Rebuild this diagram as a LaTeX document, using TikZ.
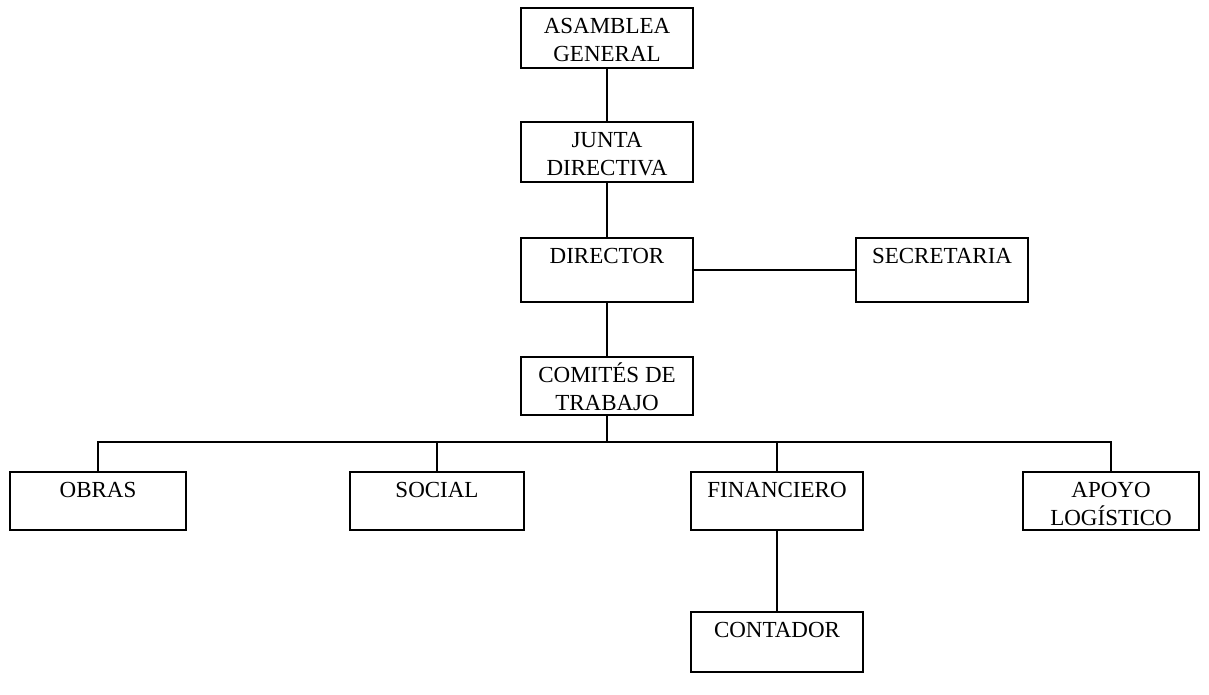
\documentclass[tikz,border=0pt]{standalone}
\usepackage{fontspec}
\setmainfont{Liberation Serif}
\begin{document}
\begin{tikzpicture}[x=1pt,y=-1pt,
  box/.style={draw,line width=2pt,minimum width=172pt,inner sep=0pt},
  lbl/.style={anchor=north,inner sep=0pt,align=center,font=\fontsize{23}{28.5}\selectfont},
  link/.style={line width=2pt}]
\useasboundingbox (0,0) rectangle (1209,694);
% boxes
\node[box,minimum height=60pt] (asm) at (607,38) {};
\node[box,minimum height=60pt] (jun) at (607,152) {};
\node[box,minimum height=64pt] (dir) at (607,270) {};
\node[box,minimum height=64pt] (sec) at (942,270) {};
\node[box,minimum height=58pt] (com) at (607,386) {};
\node[box,minimum height=58pt,minimum width=176pt] (obr) at (98,501) {};
\node[box,minimum height=58pt,minimum width=174pt] (soc) at (437,501) {};
\node[box,minimum height=58pt,minimum width=172pt] (fin) at (777,501) {};
\node[box,minimum height=58pt,minimum width=176pt] (apo) at (1111,501) {};
\node[box,minimum height=60pt,minimum width=172pt] (con) at (777,642) {};
% labels
\node[lbl] (asmt) at ([yshift=-6pt]asm.north) {\strut ASAMBLEA\\GENERAL};
\node[lbl] (junt) at ([yshift=-6pt]jun.north) {\strut JUNTA\\DIRECTIVA};
\node[lbl] (dirt) at ([yshift=-6pt]dir.north) {\strut DIRECTOR};
\node[lbl] (sect) at ([yshift=-6pt]sec.north) {\strut SECRETARIA};
\node[lbl] (comt) at ([yshift=-6pt]com.north) {\strut COMITÉS DE\\TRABAJO};
\node[lbl] (obrt) at ([yshift=-6pt]obr.north) {\strut OBRAS};
\node[lbl] (soct) at ([yshift=-6pt]soc.north) {\strut SOCIAL};
\node[lbl] (fint) at ([yshift=-6pt]fin.north) {\strut FINANCIERO};
\node[lbl] (apot) at ([yshift=-6pt]apo.north) {\strut APOYO\\LOGÍSTICO};
\node[lbl] (cont) at ([yshift=-6pt]con.north) {\strut CONTADOR};
% bus coordinate
\coordinate (bus) at (607,442);
% connectors
\draw[link] (asm.south) -- (jun.north);
\draw[link] (jun.south) -- (dir.north);
\draw[link] (dir.east) -- (sec.west);
\draw[link] (dir.south) -- (com.north);
\draw[link] (com.south) -- (bus);
\draw[link] (obr.north) |- (bus);
\draw[link] (soc.north) |- (bus);
\draw[link] (fin.north) |- (bus);
\draw[link] (apo.north) |- (bus);
\draw[link] (fin.south) -- (con.north);
\end{tikzpicture}
\end{document}
